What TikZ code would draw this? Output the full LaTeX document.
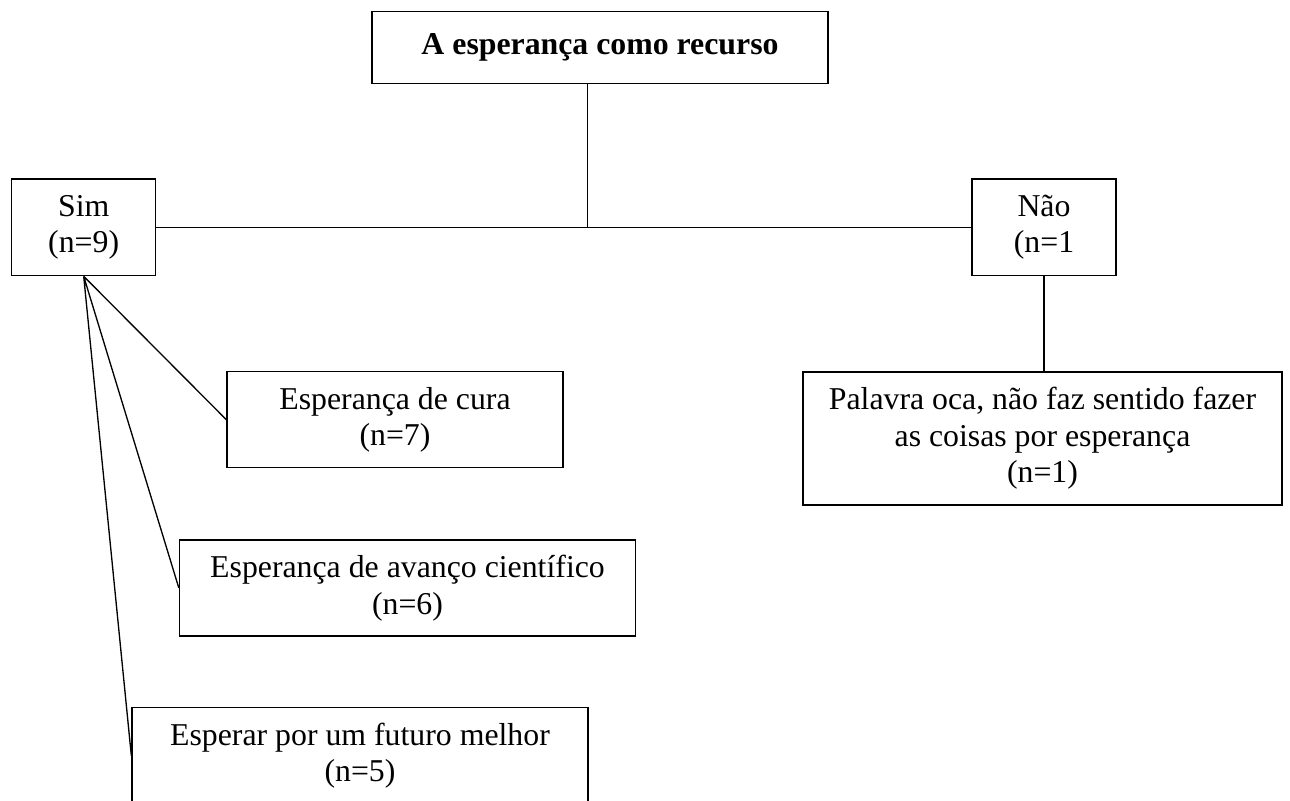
\documentclass[tikz,border=0pt]{standalone}
\usepackage{fontspec}
\setmainfont{Liberation Serif}
\newcommand{\pxu}{0.3774pt}

\begin{document}
\begin{tikzpicture}[x=\pxu,y=-\pxu,line width=0.5pt,
  box/.style 2 args={draw,inner sep=0pt,align=center,
    minimum width=#1*\pxu,minimum height=#2*\pxu,
    font=\fontsize{12}{13.8}\selectfont}]
\useasboundingbox (0,0) rectangle (1290,801);
\node[box={456}{71.7},font=\bfseries\fontsize{12}{13.8}\selectfont] (tema) at (600,47.5) {A esperança como recurso};
\node[box={144}{96.7}] (sim)     at (83.7,227.3)  {Sim\\(n=9)};
\node[box={144}{96.7}] (nao)     at (1044,227.3)  {Não\\(n=1};
\node[box={336}{96}]   (cura)    at (395,419.7)   {Esperança de cura\\(n=7)};
\node[box={456}{96}]   (avanco)  at (407.5,588)   {Esperança de avanço científico\\(n=6)};
\node[box={456}{96}]   (futuro)  at (360,755.7)   {Esperar por um futuro melhor\\(n=5)};
\node[box={479}{133}]  (palavra) at (1042.5,438.5) {Palavra oca, não faz sentido fazer\\as coisas por esperança\\(n=1)};
\coordinate (juncao) at (587.7,227.3);

\draw (juncao |- tema.south) -- (juncao);
\draw (sim.east) -- (nao.west);
\draw (nao.south) -- (nao.south |- palavra.north);
\draw (sim.south) -- (cura.west)
      (sim.south) -- (avanco.west)
      (sim.south) -- (futuro.west);
\end{tikzpicture}
\end{document}
